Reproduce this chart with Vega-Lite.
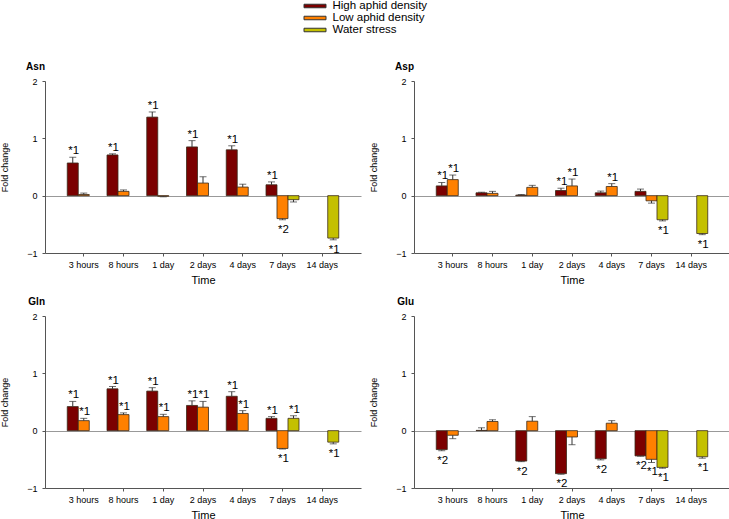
{
  "$schema": "https://vega.github.io/schema/vega-lite/v6.json",
  "padding": {"left": 0, "top": 0, "right": 0, "bottom": 0},
  "config": {
    "font": "Liberation Sans",
    "view": {"stroke": null},
    "axis": {"labelColor": "#000", "titleColor": "#000", "domainColor": "#555", "tickColor": "#555", "titleFontWeight": "normal"}
  },
  "data": {"values": [
    {"aa": "Asn", "t": "3 hours", "g": "High aphid density", "v": 0.57, "e": 0.67, "s": "*1"},
    {"aa": "Asn", "t": "3 hours", "g": "Low aphid density", "v": 0.02, "e": 0.045},
    {"aa": "Asn", "t": "8 hours", "g": "High aphid density", "v": 0.71, "e": 0.73, "s": "*1"},
    {"aa": "Asn", "t": "8 hours", "g": "Low aphid density", "v": 0.075, "e": 0.1},
    {"aa": "Asn", "t": "1 day", "g": "High aphid density", "v": 1.37, "e": 1.46, "s": "*1"},
    {"aa": "Asn", "t": "1 day", "g": "Low aphid density", "v": -0.01, "e": -0.02},
    {"aa": "Asn", "t": "2 days", "g": "High aphid density", "v": 0.85, "e": 0.96, "s": "*1"},
    {"aa": "Asn", "t": "2 days", "g": "Low aphid density", "v": 0.22, "e": 0.33},
    {"aa": "Asn", "t": "4 days", "g": "High aphid density", "v": 0.8, "e": 0.87, "s": "*1"},
    {"aa": "Asn", "t": "4 days", "g": "Low aphid density", "v": 0.15, "e": 0.2},
    {"aa": "Asn", "t": "7 days", "g": "High aphid density", "v": 0.19, "e": 0.24, "s": "*1"},
    {"aa": "Asn", "t": "7 days", "g": "Low aphid density", "v": -0.4, "e": -0.42, "s": "*2"},
    {"aa": "Asn", "t": "7 days", "g": "Water stress", "v": -0.07, "e": -0.11},
    {"aa": "Asn", "t": "14 days", "g": "Water stress", "v": -0.74, "e": -0.77, "s": "*1"},

    {"aa": "Asp", "t": "3 hours", "g": "High aphid density", "v": 0.17, "e": 0.23, "s": "*1"},
    {"aa": "Asp", "t": "3 hours", "g": "Low aphid density", "v": 0.28, "e": 0.36, "s": "*1"},
    {"aa": "Asp", "t": "8 hours", "g": "High aphid density", "v": 0.05, "e": 0.06},
    {"aa": "Asp", "t": "8 hours", "g": "Low aphid density", "v": 0.04, "e": 0.075},
    {"aa": "Asp", "t": "1 day", "g": "High aphid density", "v": 0.01, "e": 0.02},
    {"aa": "Asp", "t": "1 day", "g": "Low aphid density", "v": 0.145, "e": 0.18},
    {"aa": "Asp", "t": "2 days", "g": "High aphid density", "v": 0.09, "e": 0.13, "s": "*1"},
    {"aa": "Asp", "t": "2 days", "g": "Low aphid density", "v": 0.17, "e": 0.29, "s": "*1"},
    {"aa": "Asp", "t": "4 days", "g": "High aphid density", "v": 0.05, "e": 0.08},
    {"aa": "Asp", "t": "4 days", "g": "Low aphid density", "v": 0.16, "e": 0.21, "s": "*1"},
    {"aa": "Asp", "t": "7 days", "g": "High aphid density", "v": 0.075, "e": 0.115},
    {"aa": "Asp", "t": "7 days", "g": "Low aphid density", "v": -0.09, "e": -0.13},
    {"aa": "Asp", "t": "7 days", "g": "Water stress", "v": -0.42, "e": -0.44, "s": "*1"},
    {"aa": "Asp", "t": "14 days", "g": "Water stress", "v": -0.66, "e": -0.68, "s": "*1"},

    {"aa": "Gln", "t": "3 hours", "g": "High aphid density", "v": 0.42, "e": 0.51, "s": "*1"},
    {"aa": "Gln", "t": "3 hours", "g": "Low aphid density", "v": 0.175, "e": 0.215, "s": "*1"},
    {"aa": "Gln", "t": "8 hours", "g": "High aphid density", "v": 0.73, "e": 0.77, "s": "*1"},
    {"aa": "Gln", "t": "8 hours", "g": "Low aphid density", "v": 0.28, "e": 0.31, "s": "*1"},
    {"aa": "Gln", "t": "1 day", "g": "High aphid density", "v": 0.69, "e": 0.75, "s": "*1"},
    {"aa": "Gln", "t": "1 day", "g": "Low aphid density", "v": 0.245, "e": 0.285, "s": "*1"},
    {"aa": "Gln", "t": "2 days", "g": "High aphid density", "v": 0.44, "e": 0.52, "s": "*1"},
    {"aa": "Gln", "t": "2 days", "g": "Low aphid density", "v": 0.41, "e": 0.51, "s": "*1"},
    {"aa": "Gln", "t": "4 days", "g": "High aphid density", "v": 0.6, "e": 0.68, "s": "*1"},
    {"aa": "Gln", "t": "4 days", "g": "Low aphid density", "v": 0.3, "e": 0.35, "s": "*1"},
    {"aa": "Gln", "t": "7 days", "g": "High aphid density", "v": 0.215, "e": 0.245, "s": "*1"},
    {"aa": "Gln", "t": "7 days", "g": "Low aphid density", "v": -0.31, "e": -0.32, "s": "*1"},
    {"aa": "Gln", "t": "7 days", "g": "Water stress", "v": 0.215, "e": 0.26, "s": "*1"},
    {"aa": "Gln", "t": "14 days", "g": "Water stress", "v": -0.2, "e": -0.23, "s": "*1"},

    {"aa": "Glu", "t": "3 hours", "g": "High aphid density", "v": -0.33, "e": -0.35, "s": "*2"},
    {"aa": "Glu", "t": "3 hours", "g": "Low aphid density", "v": -0.08, "e": -0.14},
    {"aa": "Glu", "t": "8 hours", "g": "High aphid density", "v": 0.005, "e": 0.05},
    {"aa": "Glu", "t": "8 hours", "g": "Low aphid density", "v": 0.16, "e": 0.19},
    {"aa": "Glu", "t": "1 day", "g": "High aphid density", "v": -0.53, "e": -0.54, "s": "*2"},
    {"aa": "Glu", "t": "1 day", "g": "Low aphid density", "v": 0.165, "e": 0.245},
    {"aa": "Glu", "t": "2 days", "g": "High aphid density", "v": -0.75, "e": -0.76, "s": "*2"},
    {"aa": "Glu", "t": "2 days", "g": "Low aphid density", "v": -0.11, "e": -0.245},
    {"aa": "Glu", "t": "4 days", "g": "High aphid density", "v": -0.49, "e": -0.51, "s": "*2"},
    {"aa": "Glu", "t": "4 days", "g": "Low aphid density", "v": 0.13, "e": 0.175},
    {"aa": "Glu", "t": "7 days", "g": "High aphid density", "v": -0.44, "e": -0.445, "s": "*2"},
    {"aa": "Glu", "t": "7 days", "g": "Low aphid density", "v": -0.5, "e": -0.555, "s": "*1"},
    {"aa": "Glu", "t": "7 days", "g": "Water stress", "v": -0.64, "e": -0.655, "s": "*1"},
    {"aa": "Glu", "t": "14 days", "g": "Water stress", "v": -0.455, "e": -0.48, "s": "*1"}
  ]},
  "columns": 2,
  "spacing": {"row": 63, "column": 53},
  "bounds": "flush",
  "facet": {
    "field": "aa", "type": "nominal",
    "header": {"title": null, "labelFontWeight": "bold", "labelFontSize": 10, "labelColor": "#000", "labelAnchor": "start", "labelAlign": "right", "labelPadding": 5}
  },
  "resolve": {"axis": {"x": "independent", "y": "independent"}},
  "spec": {
    "width": 316,
    "height": 172,
    "encoding": {
      "x": {
        "field": "t", "type": "nominal",
        "sort": ["3 hours", "8 hours", "1 day", "2 days", "4 days", "7 days", "14 days"],
        "scale": {"paddingInner": 0.17, "paddingOuter": 0.56},
        "axis": {"title": "Time", "titleFontSize": 11, "titlePadding": 5, "labelFontSize": 9, "labelAngle": 0, "labelPadding": 4, "tickSize": 3}
      },
      "xOffset": {
        "field": "g", "type": "nominal",
        "sort": ["High aphid density", "Low aphid density", "Water stress"],
        "scale": {"domain": ["High aphid density", "Low aphid density", "Water stress"], "paddingInner": 0, "paddingOuter": 0}
      }
    },
    "layer": [
      {
        "mark": {"type": "bar", "stroke": "#3a2a1a", "strokeWidth": 0.8},
        "encoding": {
          "y": {
            "field": "v", "type": "quantitative",
            "scale": {"domain": [-1, 2], "nice": false},
            "axis": {
              "title": "Fold change", "values": [-1, 0, 1, 2], "format": "d", "tickSize": 3, "labelPadding": 5, "labelFontSize": 9, "titleFontSize": 9, "titlePadding": 17,
              "grid": true, "gridColor": "#999",
              "gridOpacity": {"condition": {"test": "datum.value === 0", "value": 1}, "value": 0}
            }
          },
          "color": {
            "field": "g", "type": "nominal",
            "scale": {"domain": ["High aphid density", "Low aphid density", "Water stress"], "range": ["#7B0000", "#FF8000", "#C4C000"]},
            "legend": {"title": null, "orient": "none", "legendX": 264, "legendY": -81, "symbolType": "M-2,-0.32H2V0.32H-2Z", "symbolSize": 121, "symbolStrokeColor": "#333", "symbolStrokeWidth": 1, "labelFontSize": 11.5, "labelOffset": 11.5, "rowPadding": 0, "labelColor": "#000"}
          }
        }
      },
      {
        "mark": {"type": "rule", "color": "#333", "strokeWidth": 1},
        "encoding": {"y": {"field": "v", "type": "quantitative"}, "y2": {"field": "e"}}
      },
      {
        "mark": {"type": "tick", "orient": "horizontal", "size": 7, "thickness": 1, "color": "#333"},
        "encoding": {"y": {"field": "e", "type": "quantitative"}}
      },
      {
        "transform": [{"filter": "datum.s && datum.v >= 0"}],
        "mark": {"type": "text", "fontSize": 11.5, "baseline": "alphabetic", "dy": -3, "dx": 1, "color": "#000"},
        "encoding": {"y": {"field": "e", "type": "quantitative"}, "text": {"field": "s"}}
      },
      {
        "transform": [{"filter": "datum.s && datum.v < 0"}],
        "mark": {"type": "text", "fontSize": 11.5, "baseline": "top", "dy": 4, "dx": 1, "color": "#000"},
        "encoding": {"y": {"field": "e", "type": "quantitative"}, "text": {"field": "s"}}
      }
    ]
  }
}
